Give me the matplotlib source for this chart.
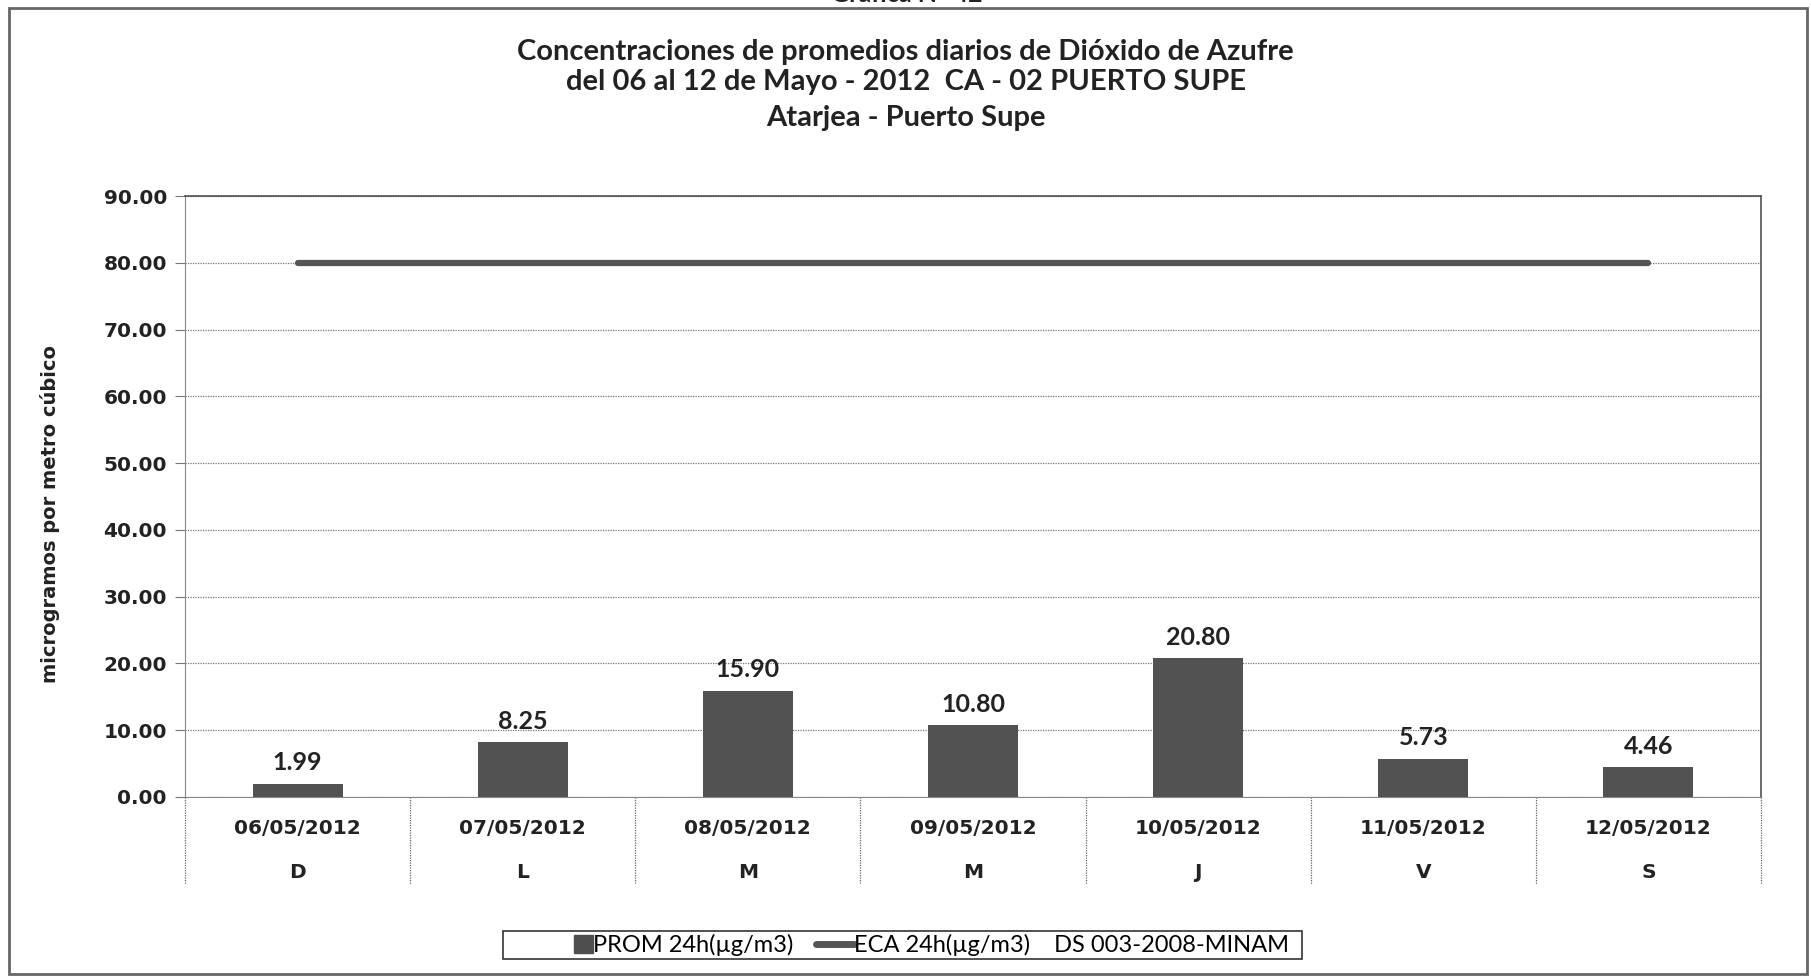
import matplotlib.pyplot as plt
from matplotlib.patches import Rectangle
from matplotlib.lines import Line2D
from matplotlib.legend_handler import HandlerPatch

fechas = ["06/05/2012", "07/05/2012", "08/05/2012", "09/05/2012",
          "10/05/2012", "11/05/2012", "12/05/2012"]
dias = ["D", "L", "M", "M", "J", "V", "S"]
prom_24h = [1.99, 8.25, 15.90, 10.80, 20.80, 5.73, 4.46]
eca_24h = [80, 80, 80, 80, 80, 80, 80]
y_ticks = [0, 10, 20, 30, 40, 50, 60, 70, 80, 90]

fig = plt.figure(figsize=(18.11, 9.77), dpi=100)
ax = fig.add_axes([185 / 1811, 1 - 797 / 977, 1576 / 1811, 601 / 977])

x = list(range(len(fechas)))
ax.bar(x, prom_24h, width=0.4, color="#525252", zorder=3)
ax.plot(x, eca_24h, color="#555555", lw=4.5, solid_capstyle="round", zorder=4)

for xi, v in zip(x, prom_24h):
    ax.annotate(f"{v:.2f}", (xi, v), xytext=(0, 15), textcoords="offset points",
                ha="center", va="center", fontsize=18, fontweight="bold",
                family="Lato", color="#222222")

ax.set_xlim(-0.5, len(fechas) - 0.5)
ax.set_ylim(0, 90)
ax.set_yticks(y_ticks)
ax.set_yticklabels([f"{t:.2f}" for t in y_ticks], fontsize=14.5,
                   fontweight="bold", color="#222222")
ax.tick_params(axis="y", length=7, width=0.8, color="#777777", pad=6)
ax.set_xticks([])
ax.yaxis.grid(True, color="#777777", lw=0.9, ls=(0, (1, 1)), zorder=0)

for side in ["top", "right"]:
    ax.spines[side].set_color("#444444")
    ax.spines[side].set_linewidth(1.1)
ax.spines["left"].set_color("#888888")
ax.spines["left"].set_linestyle((0, (1, 1)))
ax.spines["bottom"].set_color("#888888")

# category axis with two label levels and separators
trans = ax.get_xaxis_transform()
bottom = -87 / 601
for b in range(len(fechas) + 1):
    ax.plot([b - 0.5, b - 0.5], [0, bottom], transform=trans, clip_on=False,
            color="#666666", lw=0.9, ls=(0, (1, 1)))
for xi, f, d in zip(x, fechas, dias):
    ax.text(xi, -31 / 601, f, transform=trans, ha="center", va="center",
            fontsize=14.5, fontweight="bold", color="#222222")
    ax.text(xi, -75 / 601, d, transform=trans, ha="center", va="center",
            fontsize=14.5, fontweight="bold", color="#222222")

fig.text(50 / 1811, 1 - 514 / 977, "microgramos por metro cúbico", rotation=90,
         ha="center", va="center", fontsize=14, fontweight="bold", color="#222222")

titulos = ["Concentraciones de promedios diarios de Dióxido de Azufre",
           "del 06 al 12 de Mayo - 2012  CA - 02 PUERTO SUPE",
           "Atarjea - Puerto Supe"]
for t, yp in zip(titulos, [52, 82, 118]):
    fig.text(0.5, 1 - yp / 977, t, ha="center", va="center", fontsize=21,
             fontweight="bold", family="Lato", color="#222222")
fig.text(907 / 1811, 1 - 6 / 977, "Gráfica N° 42", ha="center", va="bottom",
         fontsize=18, fontweight="bold", family="Lato", color="#222222")

# outer chart frame and legend box
fig.add_artist(Rectangle((9 / 1811, 1 - 974 / 977), 1798 / 1811, 966 / 977,
                         transform=fig.transFigure, fill=False,
                         edgecolor="#666666", lw=2))
fig.add_artist(Rectangle((503 / 1811, 1 - 959 / 977), 799 / 1811, 28 / 977,
                         transform=fig.transFigure, fill=False,
                         edgecolor="#333333", lw=1.2))


def cuadro(legend, orig_handle, xdescent, ydescent, width, height, fontsize):
    lado = height * 1.1
    return Rectangle((width - lado - xdescent, -ydescent - 0.05 * height), lado, lado)


handles = [Rectangle((0, 0), 1, 1, color="#4e4e4e"),
           Line2D([0], [0], color="#555555", lw=5, solid_capstyle="round")]
labels = ["PROM 24h(µg/m3)", "ECA 24h(µg/m3)    DS 003-2008-MINAM"]
leg = fig.legend(handles, labels, loc="center", ncol=2,
                 bbox_to_anchor=(922 / 1811, 1 - 945 / 977),
                 handler_map={Rectangle: HandlerPatch(patch_func=cuadro)},
                 prop={"family": "Lato", "size": 17},
                 frameon=False, handlelength=1.6, handletextpad=0.0,
                 columnspacing=1.0, borderpad=0.15, borderaxespad=0)

fig.savefig("out.png", dpi=100, facecolor="white")
